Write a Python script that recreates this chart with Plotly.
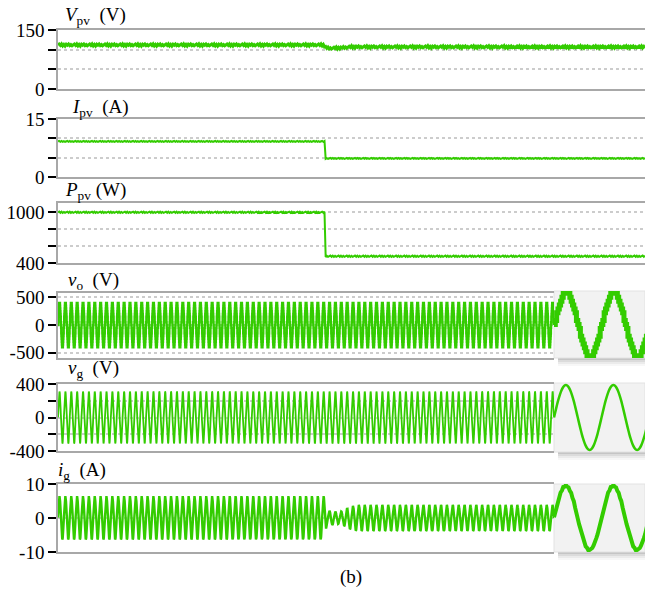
import numpy as np
import plotly.graph_objects as go

# ---------------- data ----------------
T_END = 2.0          # s, full time window
T_VIEW = 1.69        # s, where the zoom insets start
F_GRID = 50.0        # Hz
T_STEP = 0.91        # s, irradiance step

# PV voltage breakpoints (V) and ripple pattern (V)
vpv_t = [0.0, 0.905, 0.915, 0.95, 1.0, 2.0]
vpv_v = [112, 112, 104, 104, 107, 107]
vpv_ripple = [0.0, 2.2, -1.0, 2.8, -2.4, 1.2, -2.8, 1.8, -0.6, 2.4, -1.8, 0.8, -2.2]

# PV current (A)
ipv_levels = [9.2, 4.8]
ipv_ripple = [0.0, 0.12, -0.08, 0.10, -0.12, 0.06, -0.10]

# PV power (W)
ppv_levels = [1000, 480]
ppv_ripple = [0, 8, -6, 7, -8, 4, -7]

# one fundamental cycle of inverter output voltage, staircase levels (V), 36 samples
vo_cycle = [0, 50, 150, 200, 250, 300, 350, 400, 400, 400, 400, 400, 350, 300, 250, 200, 150, 50,
            0, -50, -150, -200, -250, -300, -350, -400, -400, -400, -400, -400, -350, -300, -250, -200, -150, -50]

# one cycle of grid voltage (V), 36 samples
vg_cycle = [0, 54, 106, 156, 200, 238, 269, 292, 306, 311, 306, 292, 269, 238, 200, 156, 106, 54,
            0, -54, -106, -156, -200, -238, -269, -292, -306, -311, -306, -292, -269, -238, -200, -156, -106, -54]

# one cycle of grid current, normalised shape with ripple, 36 samples
ig_cycle = [0.02, 0.20, 0.32, 0.53, 0.62, 0.79, 0.85, 0.96, 0.97, 1.02, 0.97, 0.95, 0.84, 0.78, 0.62, 0.52, 0.32, 0.19,
            -0.02, -0.19, -0.33, -0.51, -0.65, -0.75, -0.88, -0.92, -1.0, -0.99, -0.97, -0.93, -0.85, -0.77, -0.63, -0.51, -0.33, -0.16]
# grid current amplitude envelope (A)
ig_env_t = [0.0, 0.91, 0.915, 0.94, 0.96, 0.99, 1.02, 2.0]
ig_env_a = [6.3, 6.3, 2.2, 2.0, 1.6, 3.2, 3.8, 3.8]
ig_inset_amp = 3.8

# axis ticks
p1_ticks, p1_text = [0, 50, 100, 150], ["0", "", "", "150"]
p2_ticks, p2_text = [0, 5, 10, 15], ["0", "", "", "15"]
p3_ticks, p3_text = [400, 600, 800, 1000], ["400", "", "", "1000"]
p4_ticks, p4_text = [-500, 0, 500], ["-500", "0", "500"]
p5_ticks, p5_text = [-400, -200, 0, 200, 400], ["-400", "", "0", "", "400"]
p6_ticks, p6_text = [-10, 0, 10], ["-10", "0", "10"]

labels = ["<i>V</i><sub>pv</sub>&nbsp;&nbsp;(V)", "<i>I</i><sub>pv</sub>&nbsp;&nbsp;(A)",
          "<i>P</i><sub>pv</sub>&nbsp;(W)", "<i>v</i><sub>o</sub>&nbsp;&nbsp;(V)",
          "<i>v</i><sub>g</sub>&nbsp;&nbsp;(V)", "<i>i</i><sub>g</sub>&nbsp;&nbsp;(A)"]

# ---------------- layout geometry (pixels) ----------------
W, H = 645, 596
L = 58
PW = W - L
panels_px = [(30, 89), (119, 177), (203, 263), (293, 358), (384, 451), (484, 552)]
insets_px = [(291, 358), (383, 452), (484, 552)]
INSET_X0 = 554
label_pos = [(63, 16), (70, 108), (63, 191), (66, 281), (66, 369), (56, 471)]

GREEN = "#33cc00"
FONT = "Liberation Serif, Times New Roman, DejaVu Serif, serif"
FS = 19


def xf(px):
    return (px - L) / PW


def yf(px):
    return 1 - px / H


def tiled(pattern, n):
    reps = n // len(pattern) + 1
    return np.tile(np.asarray(pattern, float), reps)[:n]


fig = go.Figure()

# PV traces
t_pv = np.arange(0, T_END + 1e-9, 0.004)
vpv = np.interp(t_pv, vpv_t, vpv_v) + tiled(vpv_ripple, len(t_pv))
ipv = np.where(t_pv < T_STEP, ipv_levels[0], ipv_levels[1]) + tiled(ipv_ripple, len(t_pv))
ppv = np.where(t_pv < T_STEP, ppv_levels[0], ppv_levels[1]) + tiled(ppv_ripple, len(t_pv))

fig.add_trace(go.Scatter(x=t_pv, y=vpv, xaxis="x", yaxis="y", mode="lines", line=dict(color=GREEN, width=3)))
fig.add_trace(go.Scatter(x=t_pv, y=ipv, xaxis="x2", yaxis="y2", mode="lines", line=dict(color=GREEN, width=2)))
fig.add_trace(go.Scatter(x=t_pv, y=ppv, xaxis="x3", yaxis="y3", mode="lines", line=dict(color=GREEN, width=2)))

# AC traces
NS = len(vo_cycle)
dt = 1.0 / (NS * F_GRID)
n_ac = int(T_VIEW / dt) + 1
t_ac = np.arange(n_ac) * dt
vo = tiled(vo_cycle, n_ac)
vg = tiled(vg_cycle, n_ac)
ig = tiled(ig_cycle, n_ac) * np.interp(t_ac, ig_env_t, ig_env_a)

fig.add_trace(go.Scatter(x=t_ac, y=vo, xaxis="x4", yaxis="y4", mode="lines", line=dict(color=GREEN, width=2.4, shape="hv")))
fig.add_trace(go.Scatter(x=t_ac, y=vg, xaxis="x5", yaxis="y5", mode="lines", line=dict(color=GREEN, width=1.8)))
fig.add_trace(go.Scatter(x=t_ac, y=ig, xaxis="x6", yaxis="y6", mode="lines", line=dict(color=GREEN, width=2.4)))

# insets (two cycles)
n_in = 2 * NS + 1
t_in = np.arange(n_in) * dt
fig.add_trace(go.Scatter(x=t_in, y=tiled(vo_cycle, n_in), xaxis="x7", yaxis="y7", mode="lines",
                         line=dict(color=GREEN, width=5, shape="hv")))
fig.add_trace(go.Scatter(x=t_in, y=tiled(vg_cycle, n_in), xaxis="x8", yaxis="y8", mode="lines",
                         line=dict(color=GREEN, width=2.5, shape="spline")))
fig.add_trace(go.Scatter(x=t_in, y=tiled(ig_cycle, n_in) * ig_inset_amp, xaxis="x9", yaxis="y9", mode="lines",
                         line=dict(color=GREEN, width=4)))

ranges = [[0, 150], [0, 15], [400, 1110], [-595, 580], [-400, 400], [-10, 10]]
ticks = [(p1_ticks, p1_text), (p2_ticks, p2_text), (p3_ticks, p3_text),
         (p4_ticks, p4_text), (p5_ticks, p5_text), (p6_ticks, p6_text)]

layout = dict(width=W, height=H, margin=dict(l=L, r=0, t=0, b=0, pad=0, autoexpand=False),
              showlegend=False, template="none",
              paper_bgcolor="white", plot_bgcolor="rgba(0,0,0,0)", hovermode=False)

for i in range(6):
    k = "" if i == 0 else str(i + 1)
    top, bot = panels_px[i]
    xdom = [0, 1] if i < 3 else [0, xf(INSET_X0)]
    xr = [0, T_END] if i < 3 else [0, T_VIEW]
    layout["xaxis" + k] = dict(domain=xdom, range=xr, anchor="y" + k, showticklabels=False, ticks="",
                               showgrid=False, zeroline=False, showline=True, mirror=True,
                               linecolor="#a8a8a8", linewidth=1.5, automargin=False)
    tv, tt = ticks[i]
    layout["yaxis" + k] = dict(domain=[yf(bot), yf(top)], range=ranges[i], anchor="x" + k,
                               tickvals=tv, ticktext=tt, ticks="outside", ticklen=8, tickwidth=2,
                               tickcolor="black", tickfont=dict(family=FONT, size=FS, color="black"),
                               showgrid=True, gridcolor="#cccccc", griddash="dot", gridwidth=1.5,
                               zeroline=False, showline=True, linecolor="#a8a8a8", linewidth=1.5,
                               automargin=False)

inset_ranges = [[-430, 430], [-330, 330], [-4.0, 4.0]]
shapes = []
for j in range(3):
    k = str(7 + j)
    top, bot = insets_px[j]
    layout["xaxis" + k] = dict(domain=[xf(INSET_X0), 1], range=[0, 0.0383], anchor="y" + k,
                               visible=False, automargin=False)
    layout["yaxis" + k] = dict(domain=[yf(bot), yf(top)], range=inset_ranges[j], anchor="x" + k,
                               visible=False, automargin=False)
    # shadow below inset
    for s, op in enumerate([0.35, 0.22, 0.12, 0.05]):
        shapes.append(dict(type="rect", xref="paper", yref="paper", layer="below",
                           x0=xf(INSET_X0 + 4), x1=1, y0=yf(bot + 2 * s + 2), y1=yf(bot + 2 * s),
                           fillcolor="rgba(90,90,90,%.2f)" % op, line=dict(width=0)))
    shapes.append(dict(type="rect", xref="paper", yref="paper", layer="below",
                       x0=xf(INSET_X0), x1=1, y0=yf(bot), y1=yf(top),
                       fillcolor="#f2f2f2", line=dict(color="#e2e2e2", width=1)))

annotations = []
for (px, py), txt in zip(label_pos, labels):
    annotations.append(dict(text=txt, xref="paper", yref="paper", x=xf(px), y=yf(py),
                            xanchor="left", yanchor="middle", showarrow=False,
                            font=dict(family=FONT, size=FS, color="black")))
annotations.append(dict(text="(b)", xref="paper", yref="paper", x=xf(351), y=yf(577),
                        xanchor="center", yanchor="middle", showarrow=False,
                        font=dict(family=FONT, size=FS, color="black")))

layout["shapes"] = shapes
layout["annotations"] = annotations
fig.update_layout(**layout)
fig.write_html("out.html", config={"responsive": False, "displayModeBar": False},
               post_script="document.body.style.margin='0';document.body.style.overflow='hidden';")
